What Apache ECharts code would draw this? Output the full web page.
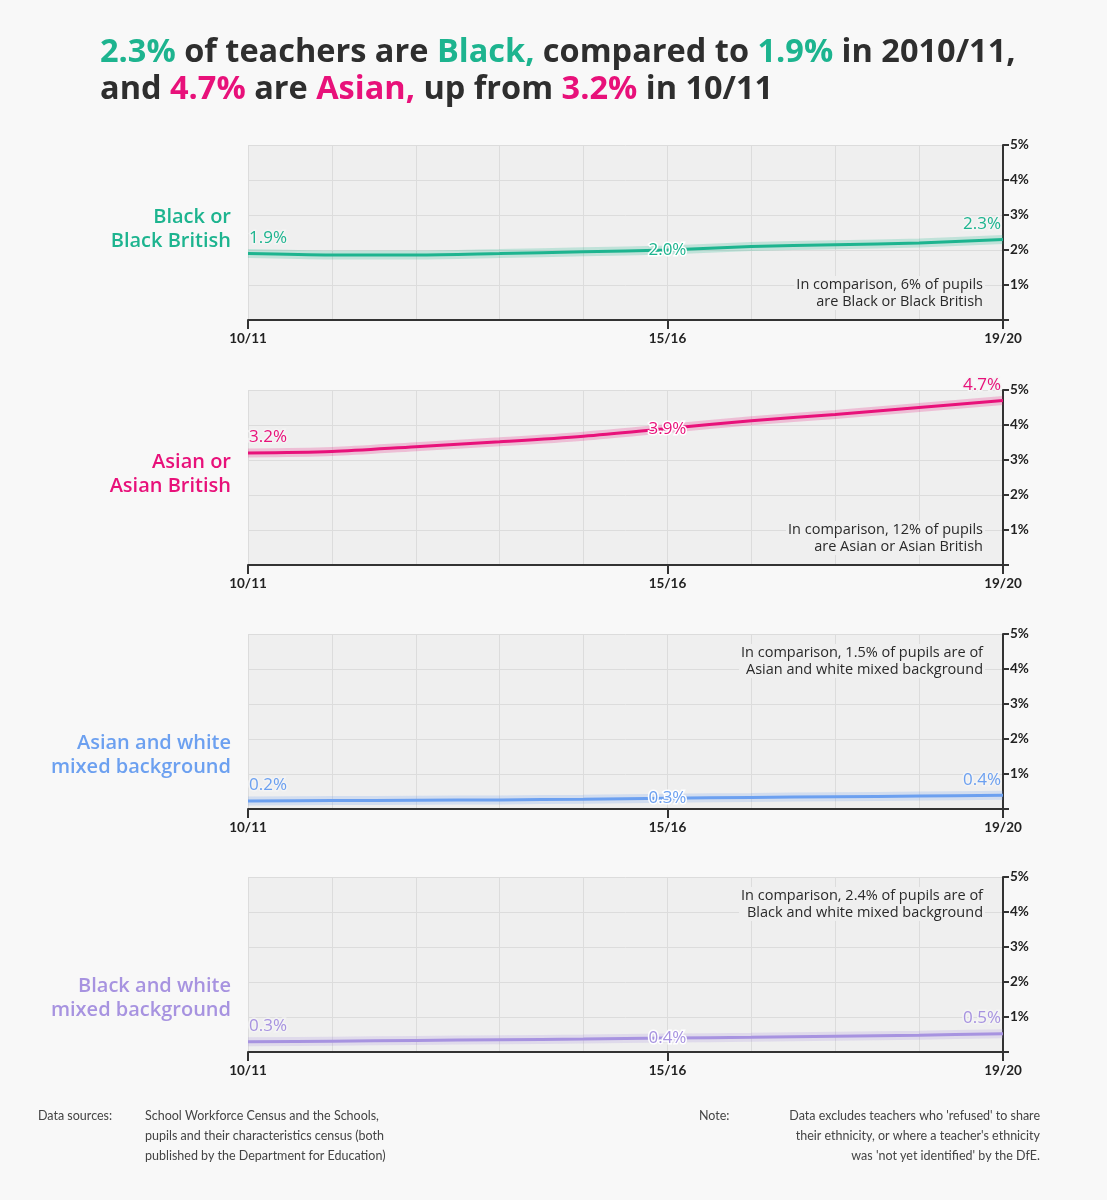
<!DOCTYPE html>
<html>
<head>
<meta charset="utf-8">
<script src="https://cdn.jsdelivr.net/npm/echarts@6/dist/echarts.min.js"></script>
<style>
  html, body { margin: 0; padding: 0; background: #f8f8f8; }
  #chart { width: 1107px; height: 1200px; }
</style>
</head>
<body>
<div id="chart"></div>
<script>
const years = ["10/11", "11/12", "12/13", "13/14", "14/15", "15/16", "16/17", "17/18", "18/19", "19/20"];
const yTicks = [0, 1, 2, 3, 4, 5];

const blackVals = [1.9, 1.86, 1.86, 1.9, 1.95, 2.0, 2.1, 2.15, 2.2, 2.3];
const asianVals = [3.2, 3.24, 3.38, 3.52, 3.68, 3.9, 4.12, 4.3, 4.5, 4.7];
const asianWhiteVals = [0.23, 0.24, 0.25, 0.26, 0.28, 0.31, 0.33, 0.35, 0.37, 0.39];
const blackWhiteVals = [0.29, 0.31, 0.33, 0.35, 0.37, 0.4, 0.42, 0.45, 0.48, 0.52];

const labelIdx = [0, 5, 9];
const tickIdx = [0, 5, 9];

const panels = [
  { name: "Black or\nBlack British", vals: blackVals, color: "#1db48f",
    note: "In comparison, 6% of pupils\nare Black or Black British", noteTop: true },
  { name: "Asian or\nAsian British", vals: asianVals, color: "#e8117a",
    note: "In comparison, 12% of pupils\nare Asian or Asian British", noteTop: true },
  { name: "Asian and white\nmixed background", vals: asianWhiteVals, color: "#6ca0f0",
    note: "In comparison, 1.5% of pupils are of\nAsian and white mixed background", noteTop: false },
  { name: "Black and white\nmixed background", vals: blackWhiteVals, color: "#a793e0",
    note: "In comparison, 2.4% of pupils are of\nBlack and white mixed background", noteTop: false }
];

const FONT = "'Open Sans'";
const SMALL = "Lato";
const plotLeft = 248;
const plotWidth = 755;
const plotHeight = 175;
const tops = [145, 390, 634, 877];

const grids = [], xAxes = [], yAxes = [], series = [], graphics = [];

panels.forEach((p, k) => {
  const top = tops[k];
  grids.push({
    left: plotLeft, top: top, width: plotWidth, height: plotHeight,
    show: true, backgroundColor: "#efefef", borderWidth: 0
  });
  xAxes.push({
    gridIndex: k, type: "category", data: years, boundaryGap: false,
    axisLine: { lineStyle: { color: "#333", width: 2 } },
    axisTick: { interval: (i) => tickIdx.includes(i), length: 9, lineStyle: { color: "#333", width: 2 } },
    axisLabel: {
      interval: (i) => tickIdx.includes(i), color: "#222", fontSize: 13.5,
      fontWeight: "bold", fontFamily: SMALL, margin: 12
    },
    splitLine: { show: true, interval: 0, lineStyle: { color: "#dcdcdc", width: 1 } }
  });
  yAxes.push({
    gridIndex: k, type: "value", position: "right", min: yTicks[0],
    max: yTicks[yTicks.length - 1], interval: 1,
    axisLine: { show: true, lineStyle: { color: "#333", width: 2 } },
    axisTick: { show: true, length: 6, lineStyle: { color: "#333", width: 2 } },
    axisLabel: {
      color: "#222", fontSize: 13.5, fontFamily: SMALL, fontWeight: "bold", margin: 7,
      formatter: (v) => (v === 0 ? "" : v + "%")
    },
    splitLine: { show: true, lineStyle: { color: "#dcdcdc", width: 1 } }
  });

  // soft glow under the line
  series.push({
    type: "line", xAxisIndex: k, yAxisIndex: k, data: p.vals, smooth: 0.3,
    symbol: "none", silent: true, z: 2,
    lineStyle: { color: p.color, width: 9, opacity: 0.22 }
  });

  const labelled = p.vals.map((v, i) => {
    if (!labelIdx.includes(i)) return v;
    let label;
    if (i === 0) label = { position: "top", align: "left", offset: [1, -1] };
    else if (i === 9) label = { position: "top", align: "right", offset: [-2, -1] };
    else label = { position: "top", align: "center", distance: 0, offset: [0, 10],
                   textBorderColor: "#ffffff", textBorderWidth: 3 };
    label.show = true;
    return { value: v, label: label };
  });

  series.push({
    type: "line", xAxisIndex: k, yAxisIndex: k, data: labelled, smooth: 0.3,
    symbol: "circle", symbolSize: 2, showSymbol: true, z: 3,
    itemStyle: { color: "rgba(0,0,0,0)" },
    lineStyle: { color: p.color, width: 3 },
    label: {
      show: false, color: p.color, fontSize: 17, fontFamily: FONT,
      textBorderColor: "#f4f4f4", textBorderWidth: 3,
      formatter: (d) => d.value.toFixed(1) + "%"
    }
  });

  // category name on the left
  graphics.push({
    type: "text", x: 231, y: top + 60 + (k >= 2 ? 37 : 0),
    style: {
      text: p.name, fill: p.color, font: "600 20px " + FONT,
      align: "right", verticalAlign: "top", lineHeight: 24
    }
  });

  // comparison note
  graphics.push({
    type: "text", x: 985, y: p.noteTop ? top + 131 : top + 10,
    z: 10,
    style: {
      text: p.note, fill: "#2a2a2a", font: "500 14.5px " + FONT,
      align: "right", verticalAlign: "top", lineHeight: 17,
      backgroundColor: "#efefef", padding: [0, 2]
    }
  });
});

// footer
graphics.push(
  { type: "text", x: 38, y: 1106,
    style: { text: "Data sources:", fill: "#444", font: "12.5px " + SMALL, lineHeight: 20 } },
  { type: "text", x: 145, y: 1106,
    style: { text: "School Workforce Census and the Schools,\npupils and their characteristics census (both\npublished by the Department for Education)",
      fill: "#444", font: "12.5px " + SMALL, lineHeight: 20 } },
  { type: "text", x: 699, y: 1106,
    style: { text: "Note:", fill: "#444", font: "12.5px " + SMALL, lineHeight: 20 } },
  { type: "text", x: 1040, y: 1106,
    style: { text: "Data excludes teachers who 'refused' to share\ntheir ethnicity, or where a teacher's ethnicity\nwas 'not yet identified' by the DfE.",
      fill: "#444", font: "12.5px " + SMALL, lineHeight: 20, align: "right" } }
);

const chart = echarts.init(document.getElementById("chart"));
chart.setOption({
  backgroundColor: "#f8f8f8",
  animation: false,
  title: {
    left: 95, top: 29,
    text: "{g|2.3%} of teachers are {g|Black,} compared to {g|1.9%} in 2010/11,\nand {p|4.7%} are {p|Asian,} up from {p|3.2%} in 10/11",
    textStyle: {
      color: "#2e2e2e", fontSize: 32.5, fontWeight: "bold", fontFamily: FONT, lineHeight: 37,
      rich: {
        g: { color: "#1db48f", fontSize: 32.5, fontWeight: "bold", fontFamily: FONT, lineHeight: 37 },
        p: { color: "#e8117a", fontSize: 32.5, fontWeight: "bold", fontFamily: FONT, lineHeight: 37 }
      }
    }
  },
  grid: grids,
  xAxis: xAxes,
  yAxis: yAxes,
  series: series,
  graphic: graphics
});
</script>
</body>
</html>
